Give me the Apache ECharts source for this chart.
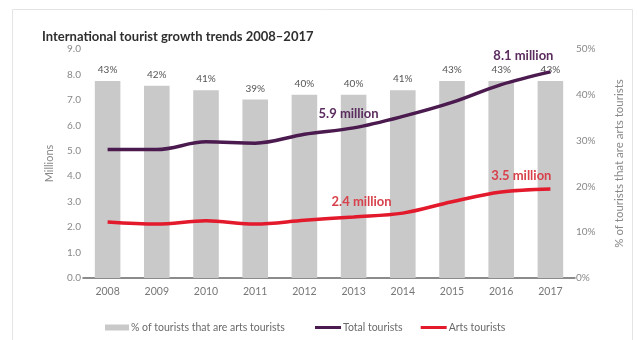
<!DOCTYPE html>
<html>
<head>
<meta charset="utf-8">
<script src="https://cdn.jsdelivr.net/npm/echarts@6/dist/echarts.min.js"></script>
<style>
  html, body { margin: 0; padding: 0; background: #fff; }
  #chart { width: 637px; height: 340px; }
</style>
</head>
<body>
<div id="chart"></div>
<script>
// International tourism, 2008–2017
const years = ['2008', '2009', '2010', '2011', '2012', '2013', '2014', '2015', '2016', '2017'];
// Share of tourists that are arts tourists (%)
const artsShare = [43, 42, 41, 39, 40, 40, 41, 43, 43, 43];
// Total international tourists (millions)
const totalTourists = [5.05, 5.05, 5.35, 5.3, 5.65, 5.9, 6.35, 6.9, 7.6, 8.1];
// Arts tourists (millions)
const artsTourists = [2.2, 2.12, 2.25, 2.12, 2.27, 2.4, 2.55, 3.0, 3.38, 3.5];
// Left axis ticks (millions), right axis ticks (%)
const leftTicks = { min: 0, max: 9, step: 1 };
const rightTicks = { min: 0, max: 50, step: 10 };

const FONT = 'Lato, "Open Sans", sans-serif';
const PURPLE = '#4b1b4f';
const RED = '#e3192c';
const lastIdx = years.length - 1;

function callout(values, idx, text, color, offset) {
  return values.map((v, i) => i === idx ? {
    value: v,
    label: {
      show: true, position: 'top', distance: 6, offset: offset,
      formatter: text, color: color, fontFamily: FONT,
      fontSize: 13, fontWeight: 'bold'
    }
  } : v);
}

const legendText = { fontFamily: FONT, fontSize: 10.5, color: '#6a6a6a', padding: [0, 0, 0, -3] };

const chart = echarts.init(document.getElementById('chart'), null, { renderer: 'canvas' });
chart.setOption({
  animation: false,
  backgroundColor: '#fff',
  graphic: [{
    type: 'rect', left: 10, top: 7,
    shape: { width: 620, height: 345 },
    style: { fill: 'none', stroke: '#e4e4e4', lineWidth: 1 },
    silent: true
  }],
  title: {
    text: 'International tourist growth trends 2008–2017',
    left: 37, top: 25,
    textStyle: { fontFamily: FONT, fontSize: 13, fontWeight: 'bold', color: '#2f2f2f' }
  },
  grid: { left: 83, right: 62, top: 49, bottom: 62 },
  legend: [{
    left: 100, top: 317,
    itemWidth: 24, itemHeight: 6, icon: 'rect',
    textStyle: legendText,
    data: ['% of tourists that are arts tourists']
  }, {
    left: 310, top: 317,
    itemGap: 18, itemWidth: 26, itemHeight: 3, icon: 'rect',
    textStyle: legendText,
    data: ['Total tourists', 'Arts tourists']
  }],
  xAxis: {
    type: 'category',
    data: years,
    axisLine: { lineStyle: { color: '#666', width: 1.5 } },
    axisTick: { show: false },
    axisLabel: { color: '#777', fontFamily: FONT, fontSize: 10.5, margin: 8 }
  },
  yAxis: [{
    type: 'value',
    min: leftTicks.min, max: leftTicks.max, interval: leftTicks.step,
    name: 'Millions', nameLocation: 'middle', nameGap: 28, nameMoveOverlap: false,
    nameTextStyle: { color: '#888', fontFamily: FONT, fontSize: 11 },
    axisLine: { show: false }, axisTick: { show: false },
    splitLine: { show: false },
    axisLabel: {
      color: '#888', fontFamily: FONT, fontSize: 10, margin: 2,
      formatter: v => v.toFixed(1)
    }
  }, {
    type: 'value',
    min: rightTicks.min, max: rightTicks.max, interval: rightTicks.step,
    name: '% of tourists that are arts tourists', nameLocation: 'middle', nameGap: 38, nameMoveOverlap: false,
    nameTextStyle: { color: '#888', fontFamily: FONT, fontSize: 11.5 },
    axisLine: { show: false }, axisTick: { show: false },
    splitLine: { show: false },
    axisLabel: {
      color: '#888', fontFamily: FONT, fontSize: 10, margin: 1,
      formatter: '{value}%'
    }
  }],
  series: [{
    name: '% of tourists that are arts tourists',
    type: 'bar',
    yAxisIndex: 1,
    data: artsShare,
    barWidth: '52%',
    itemStyle: { color: '#c9c9c9' },
    label: {
      show: true, position: 'top', distance: 6,
      formatter: '{c}%', color: '#555', fontFamily: FONT, fontSize: 10
    }
  }, {
    name: 'Total tourists',
    type: 'line',
    yAxisIndex: 0,
    smooth: 0.35,
    symbol: 'circle', symbolSize: 0, showSymbol: true,
    data: callout(callout(totalTourists, 5, '5.9 million', '#5b2c5e', [-5, -2]), lastIdx, '8.1 million', '#5b2c5e', [-27, -4]),
    lineStyle: { color: PURPLE, width: 3.5 },
    itemStyle: { color: PURPLE }
  }, {
    name: 'Arts tourists',
    type: 'line',
    yAxisIndex: 0,
    smooth: 0.35,
    symbol: 'circle', symbolSize: 0, showSymbol: true,
    data: callout(callout(artsTourists, 5, '2.4 million', '#d8414b', [8, -3]), lastIdx, '3.5 million', '#d8414b', [-29, -1]),
    lineStyle: { color: RED, width: 3.5 },
    itemStyle: { color: RED }
  }]
});
</script>
</body>
</html>
